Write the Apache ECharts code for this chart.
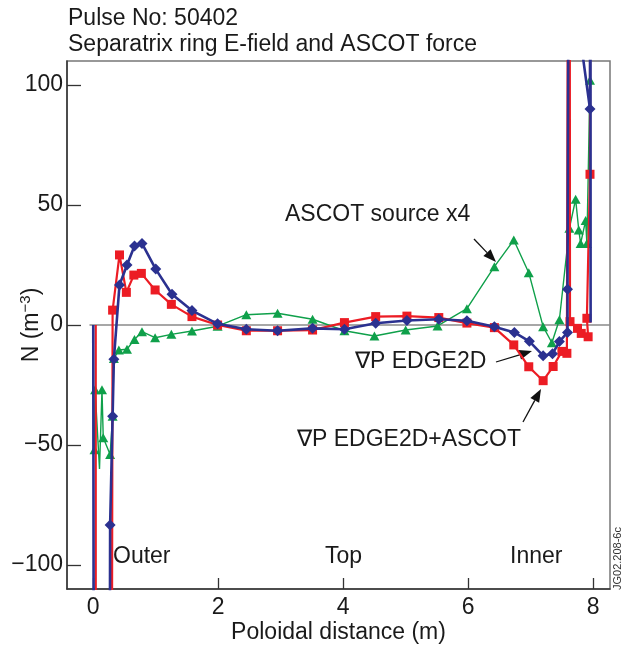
<!DOCTYPE html>
<html>
<head>
<meta charset="utf-8">
<script src="https://cdn.jsdelivr.net/npm/echarts@6/dist/echarts.min.js"></script>
<style>
  html, body { margin: 0; padding: 0; background: #fff; }
  #main { width: 624px; height: 653px; }
</style>
</head>
<body>
<div id="main"></div>
<script>
// data (x = poloidal distance, y = N)
var xTicks = [0, 2, 4, 6, 8];
var yTicks = [-100, -50, 0, 50, 100];

// the +-400 points stand for lines running off the plot
var edge2d = [
    [0, 0, 0], [0.02, -400, 0], [0.245, -400, 0], [0.27, -83.3], [0.31, -38], [0.33, -14.3],
    [0.42, 16.7], [0.54, 25], [0.66, 32.9], [0.78, 34], [1.0, 23.3], [1.26, 12.8], [1.58, 6],
    [1.99, 0.5], [2.45, -1.8], [2.95, -2.4], [3.51, -1.4], [4.02, -1.8], [4.52, 0.7], [5.02, 1.9],
    [5.53, 2.4], [5.98, 1.8], [6.42, -0.7], [6.74, -3.1], [6.98, -6.8], [7.2, -12.8], [7.35, -12],
    [7.46, -6.9], [7.59, -3.1], [7.59, 14.9], [7.635, 400, 0], [7.835, 112, 0], [7.95, 90],
    [7.955, 300, 0], [7.96, 1, 0]
];
var edge2dAscot = [
    [0.04, 0, 0], [0.04, -400, 0], [0.28, -400, 0], [0.31, 6.2], [0.42, 29.2], [0.53, 13.6],
    [0.65, 20.8], [0.77, 21.5], [0.99, 14.6], [1.25, 8.6], [1.58, 3.5], [1.99, 0], [2.45, -2.4],
    [2.95, -2.4], [3.51, -2.1], [4.02, 1], [4.52, 3.5], [5.02, 3.7], [5.53, 3.1], [5.98, 0.8],
    [6.42, -1.1], [6.73, -8.3], [6.97, -17.4], [7.2, -23.2], [7.36, -17.3], [7.5, -11], [7.58, -11.8],
    [7.62, 400, 0], [7.63, 1.4], [7.75, -1.4], [7.81, -3.5], [7.92, -4.9], [7.9, 2.8], [7.95, 62.8],
    [7.955, 400, 0]
];
var ascotX4 = [
    [0.02, -52], [0.03, -27], [0.1, -60, 0], [0.14, -27], [0.16, -47], [0.27, -54], [0.31, -38],
    [0.33, -14], [0.41, -10.4], [0.54, -10.1], [0.66, -6], [0.78, -2.8], [0.99, -5.3], [1.25, -3.9],
    [1.58, -2.5], [1.99, -0.5], [2.45, 4.3], [2.95, 4.9], [3.51, 2.4], [4.02, -2.4], [4.5, -4.6],
    [5.0, -2.1], [5.51, -0.4], [5.98, 6.8], [6.42, 24.3], [6.73, 35.4], [6.97, 21.8], [7.2, -0.7],
    [7.34, -7.4], [7.46, 2.2], [7.62, 40.3], [7.72, 52.4], [7.77, 39.6], [7.8, 34], [7.88, 43.5],
    [7.9, 34], [7.95, 102]
];
var zeroLine = [[-0.06, 0], [8.27, 0]];

var FONT = '"Liberation Sans", Arial, sans-serif';

// third entry 0 = no marker on that point
function pts(arr) {
    return arr.map(function (p) {
        if (p.length > 2 && p[2] === 0) {
            return { value: [p[0], p[1]], symbol: 'none' };
        }
        return [p[0], p[1]];
    });
}

function arrow(x1, y1, x2, y2) {
    var a = Math.atan2(y2 - y1, x2 - x1);
    var len = 13, w = 5;
    var bx = x2 - len * Math.cos(a), by = y2 - len * Math.sin(a);
    var px = -Math.sin(a) * w, py = Math.cos(a) * w;
    return [
        { type: 'line', shape: { x1: x1, y1: y1, x2: bx, y2: by }, style: { stroke: '#111', lineWidth: 1.3 } },
        { type: 'polygon', shape: { points: [[x2, y2], [bx + px, by + py], [bx - px, by - py]] }, style: { fill: '#111' } }
    ];
}

function txt(x, y, s, extra) {
    var o = { type: 'text', x: x, y: y, style: { text: s, fontSize: 23, fontFamily: FONT, fill: '#1a1a1a', textVerticalAlign: 'middle' } };
    if (extra) { for (var k in extra) o.style[k] = extra[k]; }
    return o;
}

var myChart = echarts.init(document.getElementById('main'));

var graphics = [
    txt(68, 19, 'Pulse No: 50402'),
    txt(68, 45, 'Separatrix ring E-field and ASCOT force'),
    txt(285, 215, 'ASCOT source x4'),
    txt(355, 362, '\u2207P EDGE2D'),
    txt(297, 440, '\u2207P EDGE2D+ASCOT'),
    txt(113, 557, 'Outer'),
    txt(325, 557, 'Top'),
    txt(510, 557, 'Inner'),
    { type: 'text', x: 612, y: 590, rotation: Math.PI / 2,
      style: { text: 'JG02.208-6c', fontSize: 11, fontFamily: FONT, fill: '#333', textVerticalAlign: 'top' } }
].concat(arrow(474, 239, 496, 262), arrow(496, 362, 532, 351), arrow(523, 422, 541, 389));

var option = {
    animation: false,
    backgroundColor: '#fff',
    grid: {
        left: 67, right: 14, top: 61, bottom: 64,
        outerBoundsMode: 'none', containLabel: false,
        show: true, borderColor: '#777', borderWidth: 1.5
    },
    xAxis: {
        type: 'value', min: -0.42, max: 8.27,
        name: 'Poloidal distance (m)', nameLocation: 'middle', nameGap: 32, nameMoveOverlap: false,
        nameTextStyle: { fontSize: 23, fontFamily: FONT, color: '#1a1a1a' },
        axisLine: { show: true, onZero: false, lineStyle: { color: '#333', width: 1.5 } },
        axisTick: { show: true, inside: true, length: 11, customValues: xTicks, lineStyle: { color: '#333', width: 1.3 } },
        axisLabel: { customValues: xTicks, fontSize: 23, fontFamily: FONT, color: '#1a1a1a', margin: 7 },
        splitLine: { show: false }
    },
    yAxis: {
        type: 'value', min: -110, max: 110,
        name: '{a|N (m}{b|\u22123}{a|)}', nameLocation: 'middle', nameGap: 22, nameRotate: 90,
        nameMoveOverlap: false,
        nameTextStyle: {
            fontSize: 23, fontFamily: FONT, color: '#1a1a1a',
            rich: {
                a: { fontSize: 23, fontFamily: FONT, color: '#1a1a1a' },
                b: { fontSize: 15, fontFamily: FONT, color: '#1a1a1a', padding: [0, 0, 12, 0] }
            }
        },
        axisLine: { show: true, onZero: false, lineStyle: { color: '#333', width: 1.5 } },
        axisTick: { show: true, inside: true, length: 14, customValues: yTicks, lineStyle: { color: '#333', width: 1.3 } },
        axisLabel: {
            customValues: yTicks, fontSize: 23, fontFamily: FONT, color: '#1a1a1a', margin: 4,
            formatter: function (v) { return v < 0 ? '\u2212' + Math.abs(v) : String(v); }
        },
        splitLine: { show: false }
    },
    series: [
        {
            name: 'zero', type: 'line', data: zeroLine, symbol: 'none', silent: true, z: 1,
            lineStyle: { color: '#8a8a8a', width: 1.6 }
        },
        {
            name: 'ASCOT source x4', type: 'line', data: pts(ascotX4), z: 2,
            symbol: 'triangle', symbolSize: [10, 9],
            lineStyle: { color: '#0fa04a', width: 1.4 },
            itemStyle: { color: '#0fa04a' }
        },
        {
            name: 'EDGE2D+ASCOT', type: 'line', data: pts(edge2dAscot), z: 3,
            symbol: 'rect', symbolSize: 9,
            lineStyle: { color: '#ec1c24', width: 2.2 },
            itemStyle: { color: '#ec1c24' }
        },
        {
            name: 'EDGE2D', type: 'line', data: pts(edge2d), z: 4,
            symbol: 'diamond', symbolSize: [11, 11],
            lineStyle: { color: '#2b3190', width: 2.6 },
            itemStyle: { color: '#2b3190' }
        }
    ],
    graphic: graphics
};
myChart.setOption(option);
</script>
</body>
</html>
